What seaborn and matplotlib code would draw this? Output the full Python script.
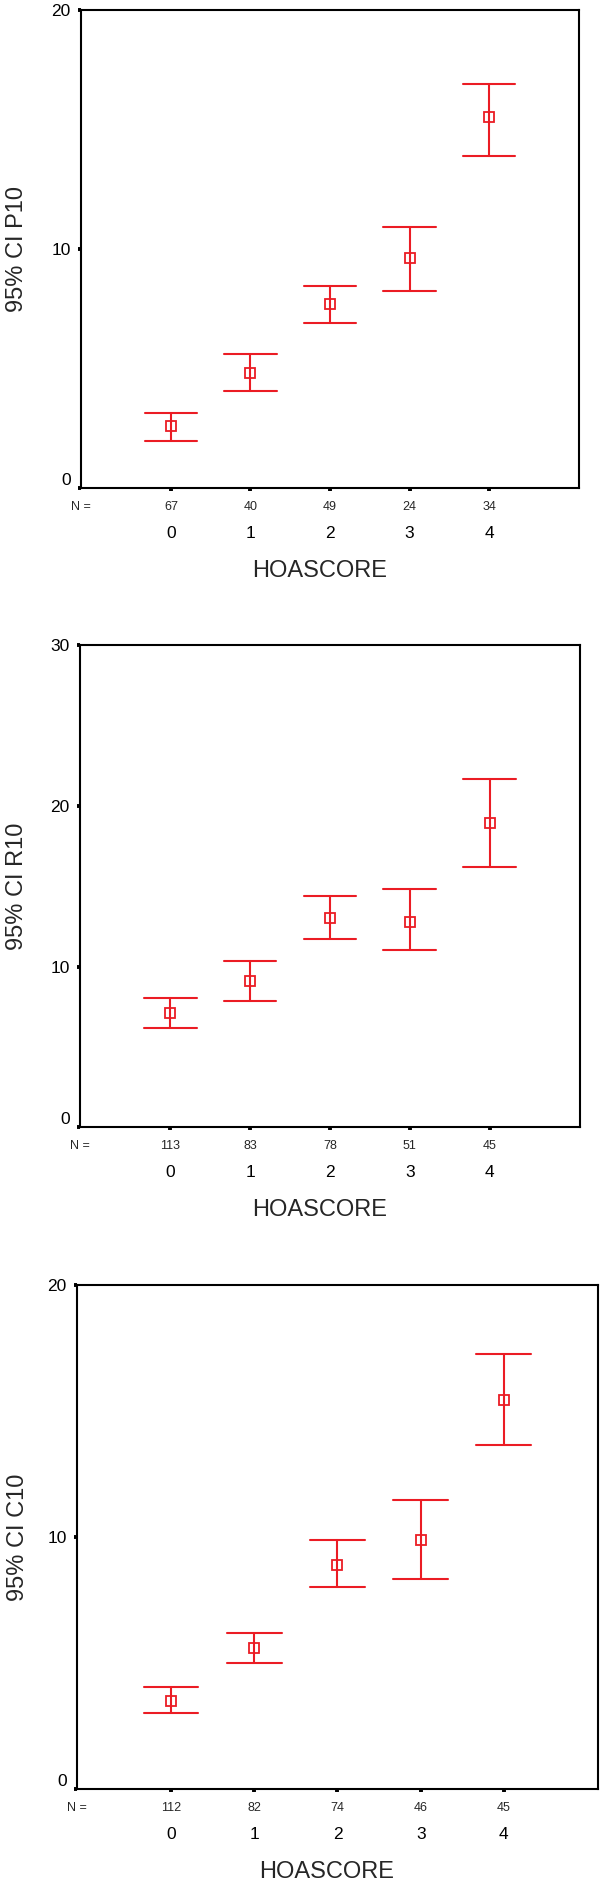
import numpy as np
import pandas as pd
import seaborn as sns
import matplotlib.pyplot as plt

# =========================
# data
# =========================
scores = [0, 1, 2, 3, 4]

p10_n = [67, 40, 49, 24, 34]
p10_mean = [2.6, 4.8, 7.7, 9.6, 15.5]
p10_low = [1.95, 4.05, 6.9, 8.25, 13.9]
p10_high = [3.15, 5.6, 8.45, 10.9, 16.9]

r10_n = [113, 83, 78, 51, 45]
r10_mean = [7.1, 9.1, 13.05, 12.8, 18.95]
r10_low = [6.15, 7.85, 11.7, 11.0, 16.2]
r10_high = [8.05, 10.35, 14.4, 14.85, 21.65]

c10_n = [112, 82, 74, 46, 45]
c10_mean = [3.5, 5.6, 8.9, 9.9, 15.45]
c10_low = [3.0, 5.0, 8.0, 8.35, 13.65]
c10_high = [4.05, 6.2, 9.9, 11.45, 17.25]

ylabels = ["95% CI P10", "95% CI R10", "95% CI C10"]
xlabel = "HOASCORE"

# =========================
# style
# =========================
sns.set_style("white")
plt.rcParams["font.family"] = ["Liberation Sans", "DejaVu Sans"]
red = "#eb1c24"


def long_df(low, mean, high):
    rows = []
    for s, lo, m, hi in zip(scores, low, mean, high):
        for v in (lo, m, hi):
            rows.append({"score": s, "value": v})
    return pd.DataFrame(rows)


panels = [
    (ylabels[0], p10_n, p10_low, p10_mean, p10_high, 20, [0, 10, 20],
     [0.135, 0.7411, 0.83, 0.2538]),
    (ylabels[1], r10_n, r10_low, r10_mean, r10_high, 30, [0, 10, 20, 30],
     [0.1333, 0.4019, 0.8333, 0.256]),
    (ylabels[2], c10_n, c10_low, c10_mean, c10_high, 20, [0, 10, 20],
     [0.1283, 0.0509, 0.8683, 0.2674]),
]

fig = plt.figure(figsize=(6, 18.85), dpi=100)

for ylab, ns, lo, m, hi, ytop, yt, rect in panels:
    ax = fig.add_axes(rect)
    df = long_df(lo, m, hi)
    sns.pointplot(
        data=df, x="score", y="value",
        estimator="median", errorbar=lambda v: (v.min(), v.max()),
        color=red, markers="s", linestyle="none", capsize=0.66,
        err_kws={"linewidth": 1.5},
        markersize=7.5, markeredgewidth=1.3, markerfacecolor="none",
        ax=ax,
    )
    for ln in ax.lines:
        ln.set_markerfacecolor("none")

    ax.set_xlim(-1.13, 5.13)
    ax.set_ylim(0, ytop)
    ax.set_yticks(yt)
    ax.set_yticklabels([str(v) for v in yt], fontsize=12.5)
    ax.set_xticks(range(len(scores)))
    ax.set_xticklabels([str(s) for s in scores], fontsize=12.5)

    for sp in ax.spines.values():
        sp.set_visible(True)
        sp.set_color("black")
        sp.set_linewidth(1.5)
    ax.tick_params(axis="both", direction="out", length=2.5, width=2.8,
                   color="black", labelcolor="black", bottom=True, left=True)
    ax.tick_params(axis="y", pad=5)
    ax.tick_params(axis="x", pad=24.5)
    ax.yaxis.get_major_ticks()[0].label1.set_verticalalignment("bottom")

    # N counts under each category
    for i, n in enumerate(ns):
        ax.annotate(str(n), xy=(i, 0), xycoords=("data", "axes fraction"),
                    xytext=(0, -19), textcoords="offset pixels",
                    ha="center", va="center", fontsize=9)
    ax.annotate("N =", xy=(0, 0), xycoords="axes fraction",
                xytext=(0, -19), textcoords="offset pixels",
                ha="center", va="center", fontsize=9)

    h_px = rect[3] * 1885
    w_px = rect[2] * 600
    ax.set_xlabel(xlabel, fontsize=17, va="center")
    ax.xaxis.set_label_coords(0.48, -83 / h_px)
    ax.set_ylabel(ylab, fontsize=17, va="center")
    ax.yaxis.set_label_coords((17.5 - rect[0] * 600) / w_px, 0.5)

fig.savefig("out.png", dpi=100)
